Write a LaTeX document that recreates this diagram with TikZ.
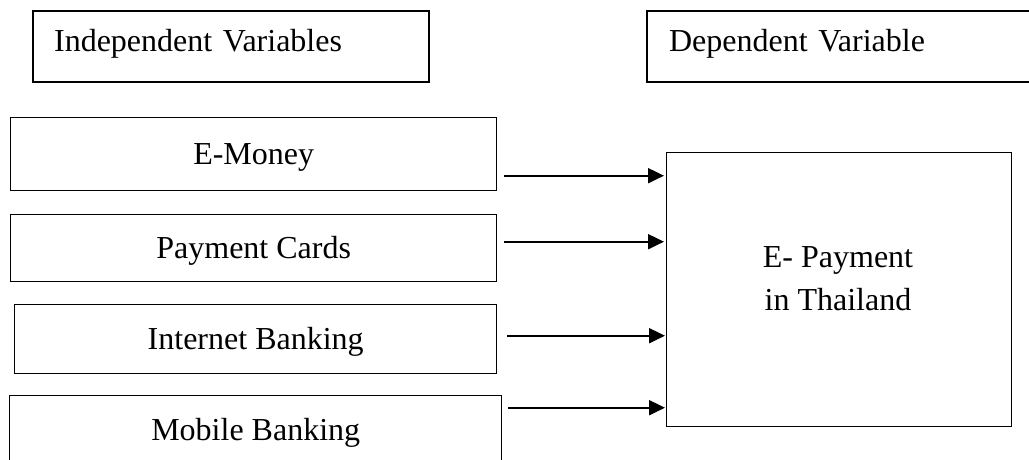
\documentclass[tikz,border=0pt]{standalone}
\usepackage{fontspec}
\setmainfont{Liberation Serif}
\usetikzlibrary{arrows.meta,calc}
\begin{document}
\begin{tikzpicture}[x=1pt,y=-1pt,
  every node/.style={font=\fontsize{32}{43}\selectfont, inner sep=0pt},
  hbox/.style={draw, line width=2.2pt, anchor=north west, minimum height=71pt,
    text height=24pt, text depth=15pt, align=left},
  vbox/.style={draw, line width=1.4pt, anchor=north west, text height=24pt, text depth=3pt},
  arr/.style={line width=2pt, -{Triangle[length=16pt,width=15pt]}}
]
\path[use as bounding box] (0,0) rectangle (1029,459);
\clip (0,0) rectangle (1029,459);

\node[hbox, inner xsep=21pt, text width=354pt] (iv) at (32,10) {Independent Variables};
\node[hbox, inner xsep=22pt, text width=356pt] (dv) at (646,10) {Dependent Variable};

\node[vbox, minimum width=486pt, minimum height=73pt] (em) at (10,117) {E-Money};
\node[vbox, minimum width=486pt, minimum height=67pt] (pc) at (10,214) {Payment Cards};
\node[vbox, minimum width=482pt, minimum height=69pt] (ib) at (14,304) {Internet Banking};
\node[vbox, minimum width=492pt, minimum height=69pt] (mb) at (9,395) {Mobile Banking};

\node[draw, line width=1.4pt, anchor=north west, minimum width=345pt, minimum height=274pt] (ep) at (666,152) {};
\node[anchor=base, align=center] (ept) at (838,310) {E- Payment\\in Thailand};

\draw[arr] ($(em.east)+(7,21.5)$) -- ($(em.east -| ep.west)+(-2,21.5)$);
\draw[arr] ($(pc.east)+(7,-6.5)$) -- ($(pc.east -| ep.west)+(-2,-6.5)$);
\draw[arr] ($(ib.east)+(10,-3.5)$) -- ($(ib.east -| ep.west)+(-1,-3.5)$);
\draw[arr] ($(mb.east)+(6,-22.5)$) -- ($(mb.east -| ep.west)+(-1,-22.5)$);
\end{tikzpicture}
\end{document}
